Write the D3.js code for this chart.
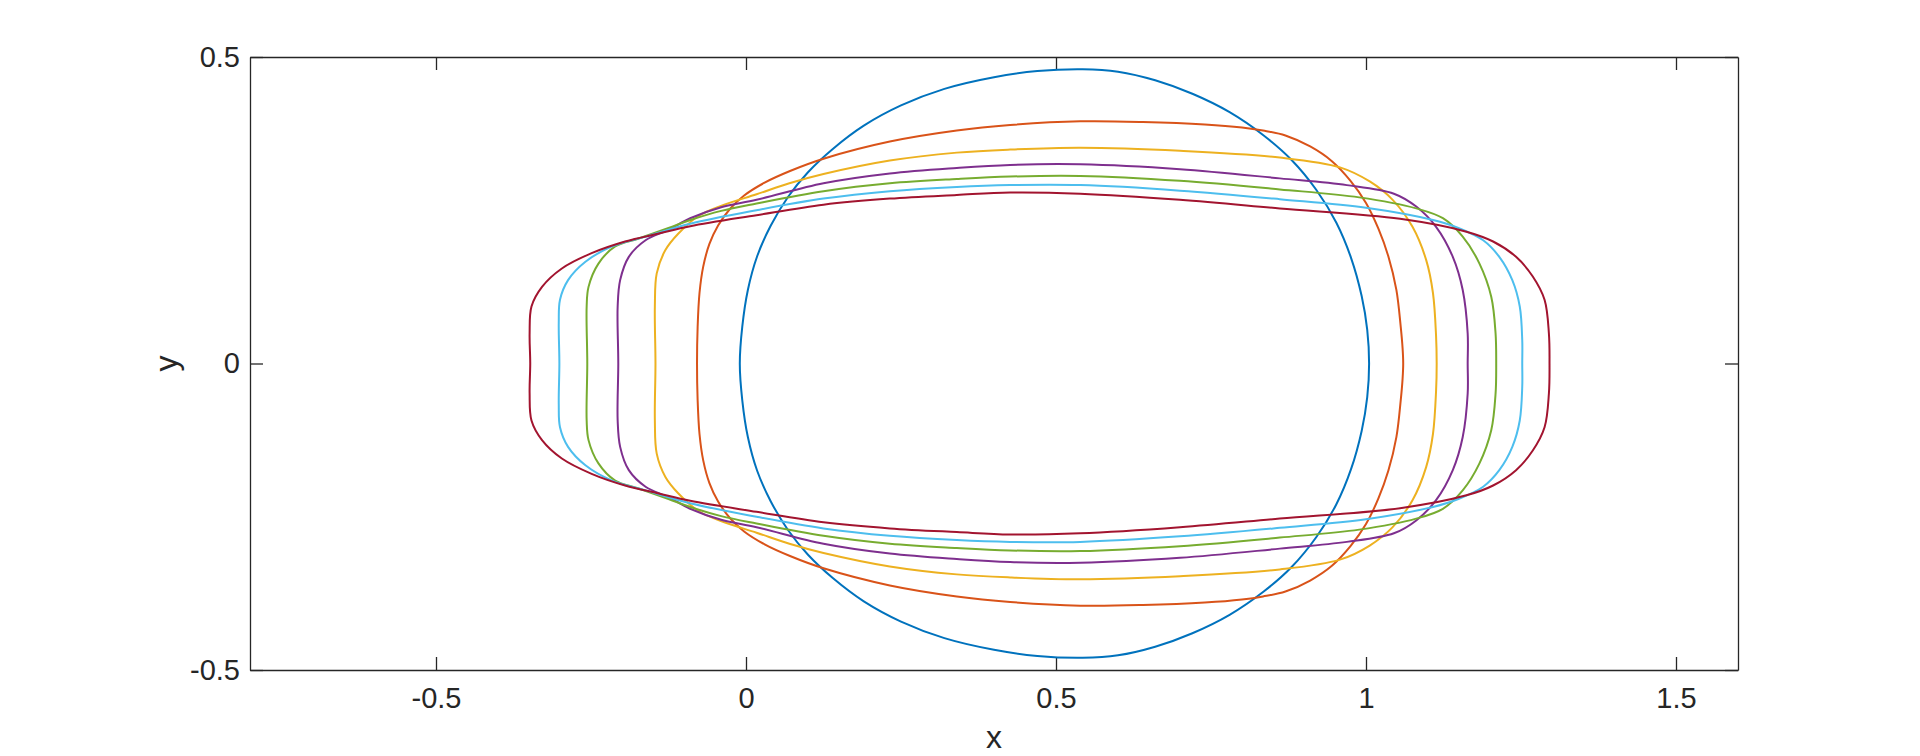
<!DOCTYPE html>
<html lang="en">
<head>
<meta charset="utf-8">
<title>Closed curves</title>
<script src="https://cdn.jsdelivr.net/npm/d3@7"></script>
<style>
  body { margin: 0; background: #fff; }
  svg { display: block; }
  .tick text { font-family: "Liberation Sans", Arial, sans-serif; font-size: 29px; fill: #262626; }
  .domain, .tick line { stroke: #262626; }
</style>
</head>
<body>
<script>
// upper halves of each closed curve (left extreme -> right extreme);
// the shapes are mirror symmetric about y = 0
const blueCurve = [[-0.010,0],[-0.006,0.06],[0.003,0.12],[0.018,0.175],[0.040,0.225],[0.068,0.272],[0.100,0.312],[0.140,0.350],[0.190,0.388],[0.250,0.421],[0.320,0.448],[0.400,0.467],[0.470,0.477],[0.543,0.480],[0.600,0.476],[0.660,0.462],[0.720,0.440],[0.780,0.410],[0.835,0.372],[0.880,0.332],[0.920,0.283],[0.952,0.230],[0.976,0.172],[0.993,0.110],[1.002,0.055],[1.005,0]];
const orangeCurve = [[-0.079,0],[-0.078,0.06],[-0.075,0.115],[-0.069,0.158],[-0.059,0.195],[-0.045,0.225],[-0.026,0.252],[-0.003,0.274],[0.030,0.295],[0.071,0.314],[0.125,0.334],[0.232,0.362],[0.340,0.380],[0.426,0.389],[0.539,0.395],[0.640,0.394],[0.740,0.390],[0.800,0.385],[0.834,0.380],[0.870,0.372],[0.910,0.354],[0.945,0.330],[0.975,0.298],[1.000,0.262],[1.020,0.220],[1.036,0.175],[1.049,0.120],[1.056,0.060],[1.059,0.025],[1.060,0]];
const yellowCurve = [[-0.146,0],[-0.147,0.093],[-0.144,0.147],[-0.130,0.185],[-0.109,0.212],[-0.076,0.241],[-0.035,0.259],[0.017,0.276],[0.070,0.294],[0.125,0.309],[0.232,0.331],[0.340,0.344],[0.426,0.349],[0.539,0.352],[0.700,0.347],[0.861,0.336],[0.958,0.320],[1.006,0.297],[1.043,0.267],[1.075,0.223],[1.097,0.169],[1.108,0.115],[1.113,0.045],[1.114,0]];
const purpleCurve = [[-0.206,0],[-0.207,0.093],[-0.203,0.136],[-0.189,0.174],[-0.162,0.201],[-0.125,0.218],[-0.090,0.237],[-0.040,0.255],[0.017,0.267],[0.125,0.294],[0.232,0.310],[0.340,0.319],[0.426,0.324],[0.539,0.325],[0.700,0.317],[0.861,0.302],[0.969,0.291],[1.045,0.277],[1.081,0.256],[1.113,0.223],[1.140,0.174],[1.156,0.120],[1.164,0.049],[1.164,0]];
const greenCurve = [[-0.256,0],[-0.257,0.093],[-0.254,0.125],[-0.238,0.163],[-0.211,0.191],[-0.173,0.204],[-0.125,0.221],[-0.090,0.234],[-0.040,0.249],[0.017,0.261],[0.125,0.281],[0.232,0.294],[0.340,0.301],[0.426,0.305],[0.539,0.306],[0.700,0.298],[0.861,0.284],[0.989,0.271],[1.081,0.253],[1.124,0.237],[1.156,0.207],[1.183,0.163],[1.202,0.109],[1.209,0.049],[1.210,0]];
const cyanCurve = [[-0.301,0],[-0.302,0.066],[-0.300,0.104],[-0.287,0.136],[-0.259,0.166],[-0.216,0.191],[-0.162,0.207],[-0.090,0.228],[0.017,0.250],[0.125,0.269],[0.232,0.281],[0.340,0.288],[0.426,0.291],[0.539,0.291],[0.700,0.282],[0.861,0.268],[1.000,0.254],[1.108,0.234],[1.149,0.221],[1.189,0.201],[1.215,0.174],[1.236,0.136],[1.248,0.093],[1.252,0.038],[1.252,0]];
const darkRedCurve = [[-0.348,0],[-0.349,0.049],[-0.346,0.093],[-0.329,0.125],[-0.297,0.155],[-0.249,0.180],[-0.195,0.199],[-0.141,0.212],[-0.090,0.224],[0.017,0.242],[0.125,0.259],[0.232,0.269],[0.340,0.275],[0.426,0.279],[0.539,0.277],[0.700,0.267],[0.861,0.253],[1.055,0.236],[1.162,0.215],[1.205,0.199],[1.242,0.174],[1.269,0.142],[1.288,0.104],[1.295,0.049],[1.296,0]];

const curves = [blueCurve, orangeCurve, yellowCurve, purpleCurve, greenCurve, cyanCurve, darkRedCurve];
const colors = ["#0072BD", "#D95319", "#EDB120", "#7E2F8E", "#77AC30", "#4DBEEE", "#A2142F"];

const xDomain = [-0.8, 1.6];
const yDomain = [-0.5, 0.5];
const xTicks = [-0.5, 0, 0.5, 1, 1.5];
const yTicks = [-0.5, 0, 0.5];

const W = 1920, H = 756;
const axLeft = 250, axRight = 1738, axTop = 57, axBottom = 670;

var svg = d3.select("body").append("svg")
    .attr("width", W)
    .attr("height", H);

var x = d3.scaleLinear().domain(xDomain).range([axLeft, axRight]);
var y = d3.scaleLinear().domain(yDomain).range([axBottom, axTop]);

var fmt = function(d) { return String(d); };   // plain hyphen minus, like the original

// axes box: labelled bottom/left, mirrored top/right, ticks pointing inward
svg.append("g").attr("transform", "translate(0," + axBottom + ")")
    .call(d3.axisBottom(x).tickValues(xTicks).tickFormat(fmt).tickSizeInner(-13).tickSizeOuter(0).tickPadding(17));
svg.append("g").attr("transform", "translate(0," + axTop + ")")
    .call(d3.axisTop(x).tickValues(xTicks).tickFormat("").tickSizeInner(-13).tickSizeOuter(0));
svg.append("g").attr("transform", "translate(" + axLeft + ",0)")
    .call(d3.axisLeft(y).tickValues(yTicks).tickFormat(fmt).tickSizeInner(-13).tickSizeOuter(0).tickPadding(10));
svg.append("g").attr("transform", "translate(" + axRight + ",0)")
    .call(d3.axisRight(y).tickValues(yTicks).tickFormat("").tickSizeInner(-13).tickSizeOuter(0));

svg.selectAll(".domain").attr("stroke-width", 1.3);
svg.selectAll(".tick line").attr("stroke-width", 1.3);

var line = d3.line()
    .x(function(d) { return x(d[0]); })
    .y(function(d) { return y(d[1]); })
    .curve(d3.curveCatmullRomClosed);

// upper half, then the mirrored lower half back to the start
function ring(half) {
  var lower = half.slice(1, -1).reverse().map(function(p) { return [p[0], -p[1]]; });
  return half.concat(lower);
}

svg.append("g").selectAll("path")
    .data(curves)
    .enter()
    .append("path")
    .attr("d", function(d) { return line(ring(d)); })
    .attr("fill", "none")
    .attr("stroke", function(d, i) { return colors[i]; })
    .attr("stroke-width", 2);

svg.append("text")
    .attr("x", (axLeft + axRight) / 2)
    .attr("y", 748)
    .attr("text-anchor", "middle")
    .attr("font-family", "Liberation Sans, Arial, sans-serif")
    .attr("font-size", 32)
    .attr("fill", "#262626")
    .text("x");

svg.append("text")
    .attr("transform", "translate(177," + ((axTop + axBottom) / 2) + ") rotate(-90)")
    .attr("text-anchor", "middle")
    .attr("font-family", "Liberation Sans, Arial, sans-serif")
    .attr("font-size", 32)
    .attr("fill", "#262626")
    .text("y");
</script>
</body>
</html>
